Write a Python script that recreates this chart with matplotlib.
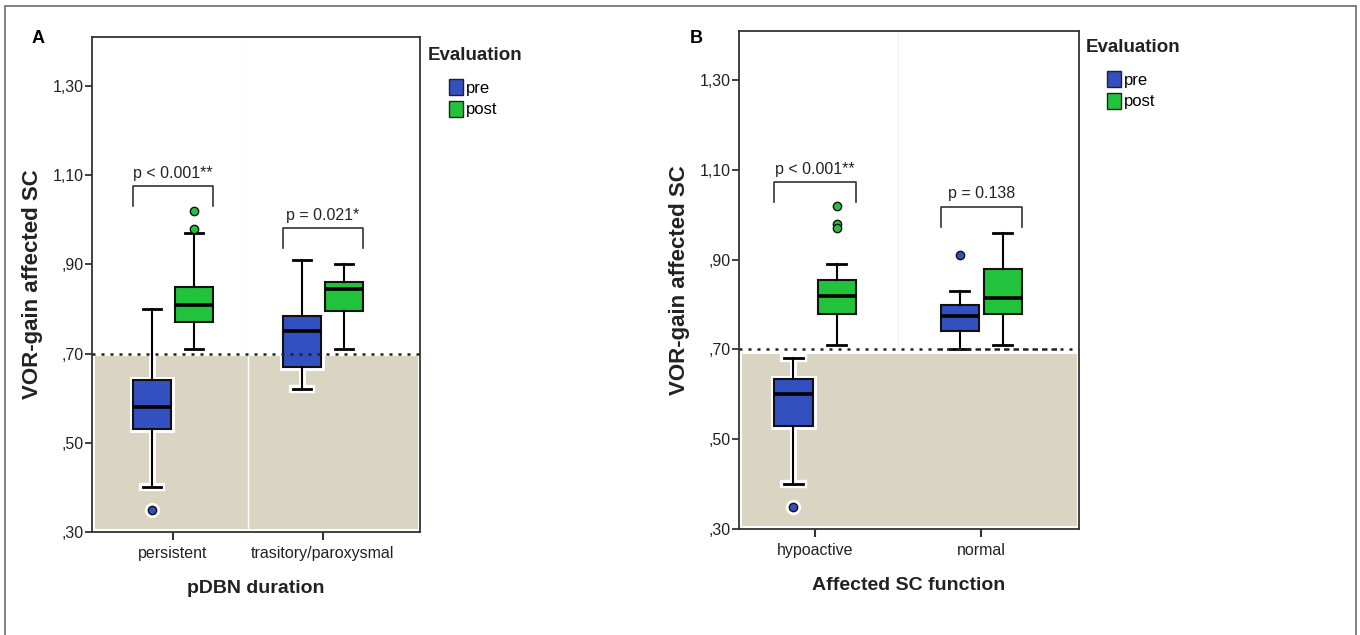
import matplotlib
matplotlib.use("Agg")
import matplotlib.pyplot as plt
from matplotlib.patches import Patch, Rectangle

# ---- data ----
ytick_vals = [0.30, 0.50, 0.70, 0.90, 1.10, 1.30]
ytick_labels = [",30", ",50", ",70", ",90", "1,10", "1,30"]
groups = ["pre", "post"]
threshold = 0.70

# panel A: pDBN duration
a_cats = ["persistent", "trasitory/paroxysmal"]
a_pre_whislo = [0.40, 0.62]
a_pre_q1 = [0.53, 0.67]
a_pre_med = [0.58, 0.75]
a_pre_q3 = [0.64, 0.785]
a_pre_whishi = [0.80, 0.91]
a_pre_fliers = [[0.35], []]
a_post_whislo = [0.71, 0.71]
a_post_q1 = [0.77, 0.795]
a_post_med = [0.81, 0.845]
a_post_q3 = [0.85, 0.86]
a_post_whishi = [0.97, 0.90]
a_post_fliers = [[1.02, 0.98], []]
a_pvals = ["p < 0.001**", "p = 0.021*"]
a_bracket_y = [1.076, 0.981]

# panel B: affected SC function
b_cats = ["hypoactive", "normal"]
b_pre_whislo = [0.40, 0.70]
b_pre_q1 = [0.53, 0.74]
b_pre_med = [0.60, 0.775]
b_pre_q3 = [0.635, 0.80]
b_pre_whishi = [0.68, 0.83]
b_pre_fliers = [[0.35], [0.91]]
b_post_whislo = [0.71, 0.71]
b_post_q1 = [0.78, 0.78]
b_post_med = [0.82, 0.815]
b_post_q3 = [0.855, 0.88]
b_post_whishi = [0.89, 0.96]
b_post_fliers = [[1.02, 0.98, 0.97], []]
b_pvals = ["p < 0.001**", "p = 0.138"]
b_bracket_y = [1.073, 1.018]

# ---- style ----
FONT = ["Liberation Sans Narrow", "Liberation Sans", "DejaVu Sans"]
COLORS = {"pre": "#3350c0", "post": "#22c33c"}
BEIGE = "#d9d5c2"
INK = "#222222"


def make_stats(whislo, q1, med, q3, whislo_hi, fliers):
    return [dict(whislo=whislo[i], q1=q1[i], med=med[i], q3=q3[i],
                 whishi=whislo_hi[i], fliers=fliers[i]) for i in range(len(med))]


def draw_panel(ax, cats, stats, pvals, bracket_y, xlim, offset, width,
               shade, xlabel, divider=True, dashed_part=None):
    ax.set_xlim(*xlim)
    ax.set_ylim(0.30, 1.41)

    # shaded area below threshold
    ax.axhspan(shade[0], shade[1], xmin=0.009, xmax=0.994, color=BEIGE,
               lw=0, zorder=0)
    ax.axvline(0.5, color="#f3f3f3", lw=1.0, zorder=0.1, ymin=0.36)
    if divider:
        ax.axvline(0.5, color="white", lw=1.0, zorder=0.2)

    for j, g in enumerate(groups):
        sign = -1 if j == 0 else 1
        pos = [i + sign * offset for i in range(len(cats))]
        # white halo underneath (SPSS style)
        ax.bxp(stats[g], positions=pos, widths=width, capwidths=width / 2,
               patch_artist=True, manage_ticks=False, zorder=2,
               boxprops=dict(facecolor="white", edgecolor="white", linewidth=5),
               medianprops=dict(color="white", linewidth=1),
               whiskerprops=dict(color="white", linewidth=5),
               capprops=dict(color="white", linewidth=6),
               flierprops=dict(marker="o", markerfacecolor="white",
                               markeredgecolor="white", markersize=10))
        ax.bxp(stats[g], positions=pos, widths=width, capwidths=width / 2,
               patch_artist=True, manage_ticks=False, zorder=3,
               boxprops=dict(facecolor=COLORS[g], edgecolor="#111111", linewidth=1.5),
               medianprops=dict(color="black", linewidth=2.6),
               whiskerprops=dict(color="black", linewidth=1.5),
               capprops=dict(color="black", linewidth=2.0),
               flierprops=dict(marker="o", markerfacecolor=COLORS[g],
                               markeredgecolor="#111111", markersize=6,
                               markeredgewidth=1.0))

    # threshold line
    dot = (0, (1.2, 2.4))
    if dashed_part is None:
        ax.axhline(threshold, color=INK, ls=dot, lw=1.8, zorder=5)
    else:
        ax.axhline(threshold, xmin=0, xmax=dashed_part[0], color=INK,
                   ls=dot, lw=1.8, zorder=5)
        ax.axhline(threshold, xmin=dashed_part[0], xmax=dashed_part[1], color=INK,
                   ls=(0, (2.2, 1.6)), lw=1.8, zorder=5)
        ax.axhline(threshold, xmin=dashed_part[1], xmax=1, color=INK,
                   ls=dot, lw=1.8, zorder=5)

    # significance brackets
    for i, (txt, yb) in enumerate(zip(pvals, bracket_y)):
        x0 = i - offset - width / 2
        x1 = i + offset + width / 2
        ax.plot([x0, x0, x1, x1], [yb - 0.045, yb, yb, yb - 0.045],
                color="#333333", lw=1.2, zorder=4)
        ax.text((x0 + x1) / 2, yb + 0.012, txt, ha="center", va="bottom",
                family=FONT, fontsize=11.5, color=INK)

    ax.set_xticks(range(len(cats)), cats)
    ax.set_yticks(ytick_vals, ytick_labels)
    ax.tick_params(axis="y", length=5, width=1.3, pad=1, labelsize=11.5,
                   colors="#333333")
    ax.tick_params(axis="x", length=6, width=1.5, pad=4, labelsize=11.5,
                   colors="#333333")
    for lab in ax.get_xticklabels() + ax.get_yticklabels():
        lab.set_family(FONT)
        lab.set_color(INK)
    for sp in ax.spines.values():
        sp.set_color("#333333")
        sp.set_linewidth(1.3)
    ax.set_ylabel("VOR-gain affected SC", family=FONT, fontsize=16,
                  fontweight="bold", color=INK, labelpad=7)
    ax.set_xlabel(xlabel, family=FONT, fontsize=14, fontweight="bold",
                  color=INK, labelpad=14)


fig = plt.figure(figsize=(13.6, 6.35), dpi=100)
axA = fig.add_axes([0.0676, 0.1622, 0.2412, 0.7795])
axB = fig.add_axes([0.5432, 0.1669, 0.2500, 0.7848])

a_stats = {"pre": make_stats(a_pre_whislo, a_pre_q1, a_pre_med, a_pre_q3, a_pre_whishi, a_pre_fliers),
           "post": make_stats(a_post_whislo, a_post_q1, a_post_med, a_post_q3, a_post_whishi, a_post_fliers)}
b_stats = {"pre": make_stats(b_pre_whislo, b_pre_q1, b_pre_med, b_pre_q3, b_pre_whishi, b_pre_fliers),
           "post": make_stats(b_post_whislo, b_post_q1, b_post_med, b_post_q3, b_post_whishi, b_post_fliers)}

draw_panel(axA, a_cats, a_stats, a_pvals, a_bracket_y, (-0.54, 1.647), 0.14, 0.25,
           (0.307, 0.694), "pDBN duration")
draw_panel(axB, b_cats, b_stats, b_pvals, b_bracket_y, (-0.459, 1.586), 0.13, 0.23,
           (0.307, 0.689), "Affected SC function", divider=False,
           dashed_part=(0.583, 0.945))

# legends (title drawn as text, entries indented like the original)
handles = [Patch(facecolor=COLORS[g], edgecolor="#222222", lw=1.0) for g in groups]
for title_xy, leg_xy in [((428, 47), (449, 79)), ((1086, 39), (1107, 71))]:
    fig.text(title_xy[0] / 1360, 1 - title_xy[1] / 635, "Evaluation",
             family=FONT, fontsize=13.5, fontweight="bold", color=INK, va="top")
    fig.legend(handles, groups, loc="upper left",
               bbox_to_anchor=(leg_xy[0] / 1360, 1 - leg_xy[1] / 635),
               bbox_transform=fig.transFigure, frameon=False, borderpad=0,
               borderaxespad=0, handlelength=0.85, handleheight=1.1,
               handletextpad=0.15, labelspacing=0.3,
               prop=dict(family=FONT, size=12))

# panel letters
fig.text(32 / 1360, 1 - 30 / 635, "A", family=FONT, fontsize=13,
         fontweight="bold", color="black", va="top")
fig.text(690 / 1360, 1 - 30 / 635, "B", family=FONT, fontsize=13,
         fontweight="bold", color="black", va="top")

# outer frame
fig.add_artist(Rectangle((5 / 1360, -0.01), (1356 - 5) / 1360, 1 - 6 / 635 + 0.01,
                         transform=fig.transFigure, fill=False,
                         edgecolor="#777777", lw=1.3))

fig.savefig("out.png", dpi=100)
